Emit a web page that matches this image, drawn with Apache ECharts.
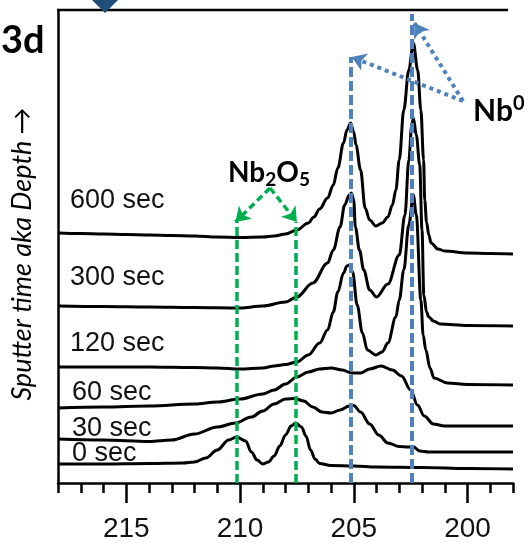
<!DOCTYPE html>
<html><head><meta charset="utf-8">
<script src="https://cdn.jsdelivr.net/npm/echarts@6/dist/echarts.min.js"></script>
<style>html,body{margin:0;padding:0;background:#fff}#c{width:529px;height:543px}</style>
</head><body><div id="c"></div><script>
// Binding energy axis (eV), reversed
const energyMin = 198, energyMax = 218;
const tickLabels = [215, 210, 205, 200];
const sputterTimes = ['0 sec', '30 sec', '60 sec', '120 sec', '300 sec', '600 sec'];

// Spectra: [binding energy, stacked intensity (a.u.)]
const spec0 = [[218,19],[216,19],[214,19.5],[212.5,20],[212,21],[211.5,25],[211,33],[210.5,43],[210.15,46],[209.75,42],[209.5,31],[209.25,23],[209,19],[208.75,21],[208.5,27],[208.25,37],[208,48],[207.75,57],[207.55,60],[207.3,56],[207.1,47],[206.9,33],[206.7,24],[206.5,19.5],[206,17.5],[205,17],[204,16],[202,15.5],[200,14.5],[198,14]];
const spec30 = [[218,44],[216,43],[214,41.5],[213,43],[212,49],[211,56],[210.2,60],[209.5,66],[209,72],[208.5,79],[208,84],[207.6,84.5],[207.2,82],[206.8,76],[206.4,71],[206,70],[205.6,73],[205.2,77],[205,77.5],[204.7,71],[204.3,59],[203.9,48],[203.5,40],[203,36.5],[202.6,36],[202.4,36.5],[202.1,32],[201.7,31],[200,31],[198,31]];
const spec60 = [[218,75],[216,76],[214,77],[212,79],[211,81],[210,84],[209,89],[208.5,93],[208,99],[207.5,106],[207,111],[206.5,114],[206,115],[205.5,113],[205.1,110],[204.7,110],[204.3,114],[203.8,117],[203.3,113],[202.9,107],[202.5,93],[202.2,78],[201.9,67],[201.5,59],[201,57],[198,57]];
const spec120 = [[218,116],[216,116],[214,116],[212,115.5],[211,115],[210,114],[209,115],[208.5,117],[208,118.5],[207.5,121],[207,128],[206.5,140],[206.15,153],[205.9,171],[205.7,191],[205.45,210],[205.3,217],[205.2,218],[205.05,211],[204.85,178],[204.62,150],[204.4,133],[204.03,128],[203.75,131],[203.5,140],[203.15,166],[203,183],[202.8,213],[202.58,258],[202.38,288],[202.25,268],[202.05,183],[201.95,148],[201.83,133],[201.65,115],[201.47,105],[200.88,100],[200,98.5],[198,98]];
const spec300 = [[218,177],[216,176.5],[214,176],[212,175.5],[210,175],[209,177],[208,181],[207.5,186],[206.8,200],[206.15,220],[205.9,233],[205.6,256],[205.4,278],[205.2,288],[205.1,290],[205,283],[204.93,256],[204.75,233],[204.56,213],[204.3,193],[204,186],[203.5,199],[203,228],[202.75,268],[202.58,323],[202.45,358],[202.38,365],[202.25,348],[202.1,318],[202,253],[201.92,188],[201.8,171],[201.7,166],[201.5,162],[201.2,159],[200,157.5],[198,157]];
const spec600 = [[218,250],[217,249.5],[216,249],[215,248.5],[214,248],[213,247.5],[212,247],[211,246],[210,245.5],[209,246],[208.5,247],[208,249],[207.5,253],[207,260],[206.75,266],[206.5,274],[206.15,285],[205.9,298],[205.7,315],[205.45,340],[205.3,353],[205.14,360],[205,351],[204.9,338],[204.7,313],[204.5,275],[204.3,263],[204.03,257],[203.75,260],[203.5,266],[203.3,278],[203.15,293],[203,323],[202.8,373],[202.58,413],[202.38,440],[202.19,413],[202.05,373],[201.93,323],[201.88,283],[201.8,261],[201.7,248],[201.6,240],[201.3,234],[201,232],[200,230],[199,229.5],[198,229]];
const spectra = [spec0, spec30, spec60, spec120, spec300, spec600];

// Reference peak positions (eV) and annotation anchors
const oxidePeaks = [210.15, 207.55];
const oxideLineTop = 261;
const metalPeaks = [205.13, 202.46];
const metalLineTops = [426, 469];
const oxideArrowFrom = [208.68, 295];
const oxideArrowTo = [[210.2, 261], [207.5, 261]];
const metalArrowFrom = [200.2, 382];
const metalArrowTo = [[205.09, 426], [202.33, 460]];

const chart = echarts.init(document.getElementById('c'), null, {renderer: 'canvas'});
const green = '#00b050', blue = '#4f81bd';
const seg = (a, b) => [{coord: a}, {coord: b}];

const series = spectra.map((d, i) => ({
  name: sputterTimes[i], type: 'line', xAxisIndex: 0, yAxisIndex: 0, data: d,
  showSymbol: false, smooth: 0.35, smoothMonotone: 'x', silent: true,
  lineStyle: {color: '#000', width: 3}, z: 2
}));
series.push({
  type: 'line', xAxisIndex: 0, yAxisIndex: 0, data: [], z: 5, silent: true,
  markLine: {silent: true, symbol: ['none', 'none'], animation: false, label: {show: false},
    lineStyle: {color: green, width: 3.5, type: [9, 4]},
    data: oxidePeaks.map(e => seg([e, 0], [e, oxideLineTop]))}
});
series.push({
  type: 'line', xAxisIndex: 0, yAxisIndex: 0, data: [], z: 5, silent: true,
  markLine: {silent: true, symbol: ['none', 'none'], animation: false, label: {show: false},
    lineStyle: {color: blue, width: 4, type: [10, 4]},
    data: metalPeaks.map((e, i) => seg([e, 0], [e, metalLineTops[i]]))}
});
series.push({
  type: 'line', xAxisIndex: 0, yAxisIndex: 0, data: [], z: 5, silent: true,
  markLine: {silent: true, symbol: ['none', 'arrow'], symbolSize: [14, 14], animation: false, label: {show: false},
    lineStyle: {color: green, width: 3.5, type: [7, 4]},
    data: oxideArrowTo.map(t => seg(oxideArrowFrom, t))}
});
series.push({
  type: 'line', xAxisIndex: 0, yAxisIndex: 0, data: [], z: 5, silent: true,
  markLine: {silent: true, symbol: ['none', 'arrow'], symbolSize: [14, 14], animation: false, label: {show: false},
    lineStyle: {color: blue, width: 4, type: [4, 4]},
    data: metalArrowTo.map(t => seg(metalArrowFrom, t))}
});
series.push({type: 'line', xAxisIndex: 1, yAxisIndex: 1, data: []});

const pxPerEv = 455 / (energyMax - energyMin);
const labelFont = '"Liberation Sans", Arial, sans-serif';
const calibriLike = 'Lato, "Open Sans", sans-serif';
const secPos = [[72, 454], [72, 429], [72, 393], [70, 344], [70, 278], [70, 201]];

const option = {
  animation: false,
  backgroundColor: '#fff',
  grid: [
    {left: 58, right: 16, top: 10, bottom: 60},
    {left: 58 + (energyMax - tickLabels[0]) * pxPerEv, right: 16 + (tickLabels[tickLabels.length - 1] - energyMin) * pxPerEv, top: 10, bottom: 60}
  ],
  xAxis: [
    {type: 'value', gridIndex: 0, min: energyMin, max: energyMax, interval: 1, inverse: true,
      axisLine: {show: true, onZero: false, lineStyle: {color: '#000', width: 2.5}},
      axisTick: {show: true, length: 10, lineStyle: {color: '#000', width: 2.5}},
      axisLabel: {show: false}, splitLine: {show: false}},
    {type: 'value', gridIndex: 1, min: tickLabels[tickLabels.length - 1], max: tickLabels[0], interval: 5, inverse: true,
      axisLine: {show: false},
      axisTick: {show: true, length: 20, lineStyle: {color: '#000', width: 2.5}},
      axisLabel: {show: true, margin: 32, color: '#111', fontSize: 28, fontFamily: labelFont},
      splitLine: {show: false}}
  ],
  yAxis: [
    {type: 'value', gridIndex: 0, min: 0, max: 473,
      axisLine: {show: true, lineStyle: {color: '#000', width: 2.5}},
      axisTick: {show: false}, axisLabel: {show: false}, splitLine: {show: false}},
    {type: 'value', gridIndex: 1, min: 0, max: 473, show: false}
  ],
  series: series,
  graphic: [
    {type: 'line', shape: {x1: 57, y1: 10, x2: 508, y2: 10}, style: {stroke: '#000', lineWidth: 2.5}, silent: true},
    {type: 'polygon', shape: {points: [[92, 0], [118, 0], [105, 13]]}, style: {fill: '#1f4e79'}, silent: true},
    {type: 'text', x: 1, y: 41, style: {text: '3d', font: 'bold 38px ' + calibriLike, fill: '#000', align: 'left', verticalAlign: 'middle'}, silent: true},
    {type: 'text', x: 22, y: 254, rotation: Math.PI / 2,
      style: {text: 'Sputter time aka Depth \u2192', font: 'italic 27px ' + calibriLike, fill: '#000', align: 'center', verticalAlign: 'middle'}, silent: true},
    {type: 'text', x: 473, y: 110, style: {text: '{a|Nb}{s|0}', align: 'left', verticalAlign: 'middle', fill: '#000',
      rich: {a: {fontSize: 30, fontWeight: 'bold', fontFamily: calibriLike, lineHeight: 32, verticalAlign: 'bottom'},
             s: {fontSize: 20, fontWeight: 'bold', fontFamily: calibriLike, lineHeight: 32, verticalAlign: 'top'}}}, silent: true},
    {type: 'text', x: 228, y: 174, style: {text: '{a|Nb}{s|2}{a|O}{s|5}', align: 'left', verticalAlign: 'middle', fill: '#000',
      rich: {a: {fontSize: 28, fontWeight: 'bold', fontFamily: calibriLike, lineHeight: 30, verticalAlign: 'top'},
             s: {fontSize: 19, fontWeight: 'bold', fontFamily: calibriLike, lineHeight: 30, verticalAlign: 'bottom'}}}, silent: true}
  ].concat(sputterTimes.map((t, i) => ({
    type: 'text', x: secPos[i][0], y: secPos[i][1], silent: true,
    style: {text: t, font: '27px ' + labelFont, fill: '#111', align: 'left', verticalAlign: 'middle'}
  })))
};
chart.setOption(option);
</script></body></html>
